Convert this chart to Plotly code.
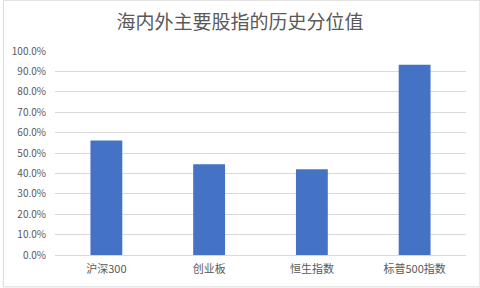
import plotly.graph_objects as go

categories = ["沪深300", "创业板", "恒生指数", "标普500指数"]
values = [0.561, 0.445, 0.420, 0.932]
tick_vals = [i / 10 for i in range(11)]

fig = go.Figure(go.Bar(x=categories, y=values, marker_color="#4472C4", marker_line_width=0))

font_family = "Noto Sans CJK SC, Microsoft YaHei, sans-serif"
fig.update_layout(
    width=480, height=288,
    margin=dict(l=52, r=14, t=51, b=32),
    paper_bgcolor="white", plot_bgcolor="white",
    bargap=0.69,
    title=dict(text="海内外主要股指的历史分位值", x=0.5, xanchor="center", y=0.924, yanchor="middle",
               font=dict(family=font_family, size=19, color="#595959")),
    font=dict(family=font_family, size=10, color="#595959"),
    showlegend=False,
)
fig.update_yaxes(range=[0, 1.0], tickvals=tick_vals, tickformat=".1%", showgrid=True,
                 gridcolor="#D9D9D9", gridwidth=1, zeroline=False, showline=False,
                 ticks="", ticklabelstandoff=8, tickfont=dict(size=10, color="#595959"))
fig.update_xaxes(showline=True, linecolor="#D9D9D9", linewidth=1, ticks="",
                 tickfont=dict(size=11, color="#595959"), ticklabelstandoff=4)
fig.add_shape(type="rect", xref="paper", yref="paper", x0=-52/414, x1=1+14/414,
              y0=-32/205, y1=1+51/205, line=dict(color="#D9D9D9", width=1), layer="below")

fig.write_html("out.html")
